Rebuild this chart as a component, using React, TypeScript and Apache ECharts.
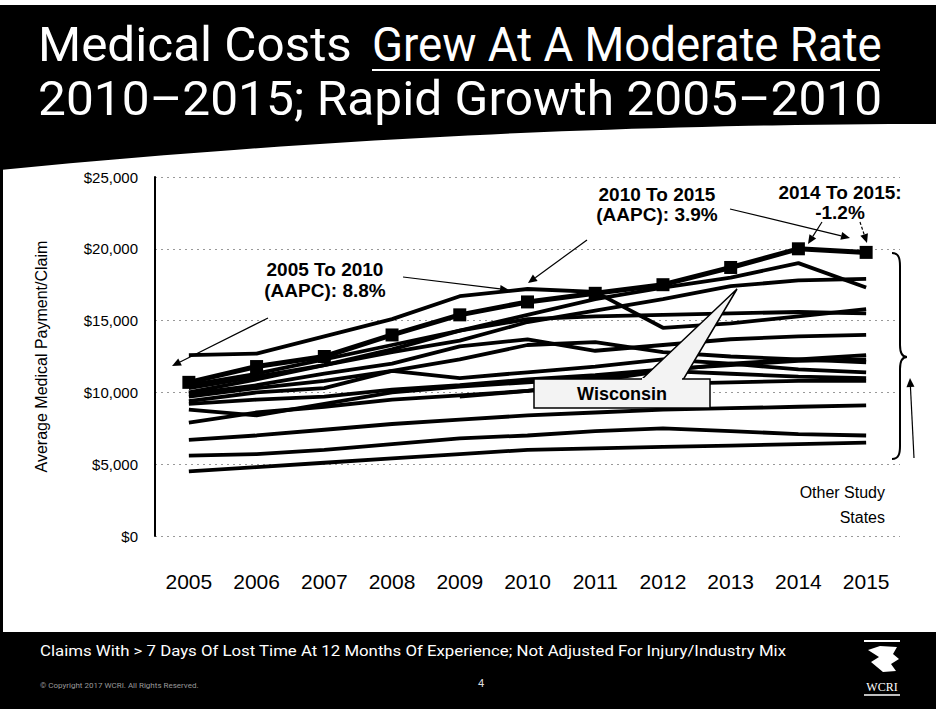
import React, { useEffect, useRef } from "react";
import * as echarts from "echarts";

const years = ["2005", "2006", "2007", "2008", "2009", "2010", "2011", "2012", "2013", "2014", "2015"];
const yTicks = [0, 5000, 10000, 15000, 20000, 25000];

const wisconsin = [10700, 11800, 12500, 14000, 15400, 16300, 16900, 17500, 18700, 20000, 19750];

const stateA = [12600, 12700, 13900, 15100, 16700, 17200, 17000, 14500, 14800, 15300, 15800];
const stateB = [10000, 10900, 11900, 13000, 14300, 15400, 16500, 17300, 18000, 19000, 17300];
const stateC = [10300, 11100, 11900, 12800, 13600, 14900, 15700, 16500, 17400, 17800, 17900];
const stateD = [10500, 11300, 12300, 13300, 14300, 15100, 15300, 15400, 15500, 15600, 15500];
const stateE = [9900, 10500, 11300, 12000, 13200, 13700, 12900, 13300, 13700, 13900, 14000];
const stateF = [9700, 10300, 10800, 11500, 12300, 13300, 13500, 12800, 12500, 12300, 12100];
const stateG = [9400, 10000, 10300, 11500, 11000, 11400, 11800, 12300, 12000, 11600, 11400];
const stateH = [8800, 8400, 9200, 10000, 10400, 10700, 11000, 11500, 11300, 11100, 11000];
const stateI = [7900, 8600, 9000, 9500, 9800, 10100, 10400, 10600, 10700, 10800, 10800];
const stateJ = [6700, 7000, 7400, 7800, 8100, 8400, 8600, 8800, 8900, 9000, 9100];
const stateK = [5600, 5700, 6000, 6400, 6800, 7000, 7300, 7500, 7300, 7100, 7000];
const stateL = [4500, 4800, 5100, 5400, 5700, 6000, 6100, 6200, 6300, 6400, 6500];
const stateM = [null, null, null, null, 9700, 10100, 10800, 11500, 12000, 12300, 12600];
const stateN = [9200, 9500, 9700, 10200, 10500, 10900, 11200, 11600, 11900, 12200, 12300];

const otherStates = [stateA, stateB, stateC, stateD, stateE, stateF, stateG, stateH, stateI, stateJ, stateK, stateL, stateM, stateN];

const FONT = "'Liberation Sans', Arial, sans-serif";

function arrow(x1: number, y1: number, x2: number, y2: number, dashed = false) {
  const ang = Math.atan2(y2 - y1, x2 - x1);
  const L = 9, W = 4;
  const bx = x2 - L * Math.cos(ang), by = y2 - L * Math.sin(ang);
  const p1 = [bx + W * Math.sin(ang), by - W * Math.cos(ang)];
  const p2 = [bx - W * Math.sin(ang), by + W * Math.cos(ang)];
  return [
    { type: "line", z: 60, shape: { x1, y1, x2: bx, y2: by }, style: { stroke: "#000", lineWidth: 1.2, lineDash: dashed ? [3, 2] : null } },
    { type: "polygon", z: 60, shape: { points: [[x2, y2], p1, p2] }, style: { fill: "#000" } },
  ];
}

function bandPoints() {
  const pts: number[][] = [[0, 5], [936, 5], [936, 124]];
  for (let i = 0; i <= 40; i++) {
    const x = 936 - (936 * i) / 40;
    const t = 1 - x / 936;
    pts.push([x, 124 + 46 * t * t]);
  }
  return pts;
}

export default function App() {
  const ref = useRef<HTMLDivElement>(null);
  useEffect(() => {
    const chart = echarts.init(ref.current!, null, { renderer: "svg" });
    const series: any[] = otherStates.map((d, i) => ({
      name: "State " + (i + 1),
      type: "line",
      data: d,
      symbol: "none",
      connectNulls: false,
      lineStyle: { color: "#000", width: 3.8 },
      z: 2,
    }));
    series.push({
      name: "Wisconsin",
      type: "line",
      data: wisconsin,
      symbol: "rect",
      symbolSize: 13,
      itemStyle: { color: "#000" },
      lineStyle: { color: "#000", width: 5 },
      z: 3,
    });

    const titleFont = "48px Roboto, sans-serif";
    const annFont = `bold 19px ${FONT}`;

    const elements: any[] = [
      { type: "polygon", z: 1, shape: { points: bandPoints() }, style: { fill: "#000" } },
      { type: "rect", z: 1, shape: { x: 0, y: 150, width: 3, height: 490 }, style: { fill: "#000" } },
      { type: "rect", z: 1, shape: { x: 0, y: 632, width: 936, height: 77 }, style: { fill: "#000" } },
      {
        type: "text", z: 5, x: 38, y: 45, scaleX: 1.03,
        style: { text: "Medical Costs", fill: "#fff", font: titleFont, verticalAlign: "middle" },
      },
      {
        type: "text", z: 5, x: 372, y: 45, scaleX: 0.95,
        style: { text: "Grew At A Moderate Rate", fill: "#fff", font: titleFont, verticalAlign: "middle" },
      },
      { type: "line", z: 5, shape: { x1: 372, y1: 70, x2: 880, y2: 70 }, style: { stroke: "#fff", lineWidth: 2 } },
      {
        type: "text", z: 5, x: 38, y: 99, scaleX: 1.035,
        style: { text: "2010\u20132015; Rapid Growth 2005\u20132010", fill: "#fff", font: titleFont, verticalAlign: "middle" },
      },
      {
        type: "text", z: 5, x: 40, y: 651, scaleX: 1.12,
        style: { text: "Claims With > 7 Days Of Lost Time At 12 Months Of Experience; Not Adjusted For Injury/Industry Mix", fill: "#fff", font: "15px Roboto, sans-serif", verticalAlign: "middle" },
      },
      {
        type: "text", z: 5, x: 40, y: 685,
        style: { text: "\u00a9 Copyright 2017 WCRI. All Rights Reserved.", fill: "#999", font: "8px Roboto, sans-serif", verticalAlign: "middle" },
      },
      {
        type: "text", z: 5, x: 481, y: 683,
        style: { text: "4", fill: "#ddd", font: "11px Roboto, sans-serif", align: "center", verticalAlign: "middle" },
      },
      { type: "line", z: 5, shape: { x1: 864, y1: 641, x2: 900, y2: 641 }, style: { stroke: "#fff", lineWidth: 2 } },
      {
        type: "polygon", z: 5,
        shape: { points: [[868, 650], [880, 646], [897, 647], [893, 654], [899, 659], [891, 664], [896, 671], [883, 672], [871, 662], [879, 657]] },
        style: { fill: "#fff" },
      },
      {
        type: "text", z: 5, x: 882, y: 687,
        style: { text: "WCRI", fill: "#fff", font: "12px 'Liberation Serif', serif", align: "center", verticalAlign: "middle" },
      },
      { type: "line", z: 5, shape: { x1: 864, y1: 695, x2: 900, y2: 695 }, style: { stroke: "#fff", lineWidth: 1.5 } },
      // annotations
      {
        type: "text", z: 60, x: 325, y: 280,
        style: { text: "2005 To 2010\n(AAPC): 8.8%", fill: "#000", font: annFont, lineHeight: 21, align: "center", verticalAlign: "middle" },
      },
      {
        type: "text", z: 60, x: 657, y: 204,
        style: { text: "2010 To 2015\n(AAPC): 3.9%", fill: "#000", font: annFont, lineHeight: 20, align: "center", verticalAlign: "middle" },
      },
      {
        type: "text", z: 60, x: 840, y: 202,
        style: { text: "2014 To 2015:\n-1.2%", fill: "#000", font: annFont, lineHeight: 20, align: "center", verticalAlign: "middle" },
      },
      ...arrow(268, 318, 172, 366),
      ...arrow(403, 277, 509, 290),
      ...arrow(587, 240, 528, 283),
      ...arrow(730, 209, 850, 238),
      ...arrow(822, 222, 808, 244),
      ...arrow(860, 222, 867, 243, true),
      // Wisconsin callout
      {
        type: "polygon", z: 60,
        shape: { points: [[641, 380], [737, 289], [683, 380]] },
        style: { fill: "#f3f3f3", stroke: "#000", lineWidth: 1.5 },
      },
      {
        type: "rect", z: 61,
        shape: { x: 534, y: 379, width: 176, height: 29 },
        style: { fill: "#f3f3f3", stroke: "#000", lineWidth: 1.5 },
      },
      { type: "line", z: 62, shape: { x1: 642, y1: 379, x2: 682, y2: 379 }, style: { stroke: "#f3f3f3", lineWidth: 2 } },
      {
        type: "text", z: 63, x: 622, y: 394,
        style: { text: "Wisconsin", fill: "#000", font: `bold 18px ${FONT}`, align: "center", verticalAlign: "middle" },
      },
      // brace
      { type: "bezierCurve", z: 60, shape: { x1: 892, y1: 253, x2: 900, y2: 266, cpx1: 899, cpy1: 253, cpx2: 900, cpy2: 259 }, style: { stroke: "#000", lineWidth: 2, fill: null } },
      { type: "line", z: 60, shape: { x1: 900, y1: 266, x2: 900, y2: 345 }, style: { stroke: "#000", lineWidth: 2 } },
      { type: "bezierCurve", z: 60, shape: { x1: 900, y1: 345, x2: 907, y2: 357, cpx1: 900, cpy1: 353, cpx2: 903, cpy2: 357 }, style: { stroke: "#000", lineWidth: 2, fill: null } },
      { type: "bezierCurve", z: 60, shape: { x1: 907, y1: 357, x2: 900, y2: 369, cpx1: 903, cpy1: 357, cpx2: 900, cpy2: 361 }, style: { stroke: "#000", lineWidth: 2, fill: null } },
      { type: "line", z: 60, shape: { x1: 900, y1: 369, x2: 900, y2: 446 }, style: { stroke: "#000", lineWidth: 2 } },
      { type: "bezierCurve", z: 60, shape: { x1: 900, y1: 446, x2: 892, y2: 459, cpx1: 900, cpy1: 453, cpx2: 899, cpy2: 459 }, style: { stroke: "#000", lineWidth: 2, fill: null } },
      ...arrow(914, 458, 910, 378),
      {
        type: "text", z: 60, x: 885, y: 505,
        style: { text: "Other Study\nStates", fill: "#000", font: `16px ${FONT}`, lineHeight: 25, align: "right", verticalAlign: "middle" },
      },
    ];

    chart.setOption({
      animation: false,
      backgroundColor: "#fff",
      grid: { left: 155, right: 36, top: 177, bottom: 173, containLabel: false },
      xAxis: {
        type: "category",
        data: years,
        boundaryGap: true,
        axisLine: { show: false },
        axisTick: { show: false },
        axisLabel: { color: "#000", fontSize: 21, fontFamily: FONT, margin: 35 },
      },
      yAxis: {
        type: "value",
        min: yTicks[0],
        max: yTicks[yTicks.length - 1],
        interval: 5000,
        name: "Average Medical Payment/Claim",
        nameLocation: "middle",
        nameGap: 106,
        nameTextStyle: { color: "#000", fontSize: 16, fontFamily: FONT },
        axisLine: { show: true, lineStyle: { color: "#000", width: 2 } },
        axisTick: { show: false },
        splitLine: { show: true, lineStyle: { color: "#999", width: 1, type: [2, 4] } },
        axisLabel: {
          color: "#000",
          fontSize: 15,
          fontFamily: FONT,
          margin: 17,
          formatter: (v: number) => "$" + v.toLocaleString("en-US"),
        },
      },
      series,
      graphic: { elements },
    });
    return () => chart.dispose();
  }, []);
  return <div ref={ref} style={{ position: "fixed", left: 0, top: 0, width: 936, height: 709, background: "#fff" }} />;
}
